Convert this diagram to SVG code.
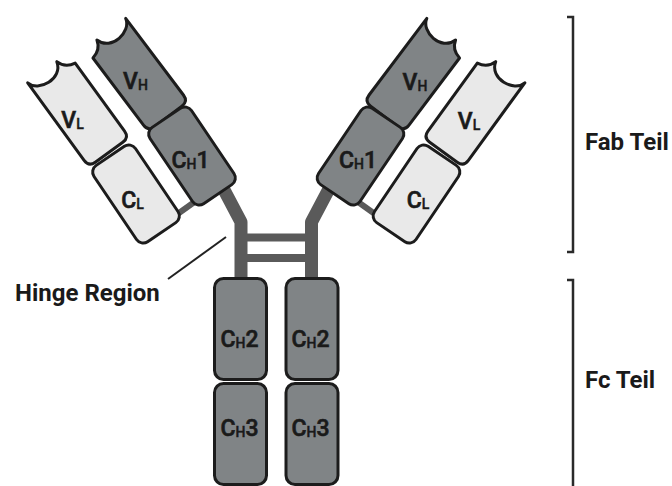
<svg xmlns="http://www.w3.org/2000/svg" width="672" height="486" viewBox="0 0 672 486">
<defs>
<style>
.hv{fill:#808486;stroke:#1c1c1c;stroke-width:3;stroke-linejoin:round}
.lt{fill:#e9e9e9;stroke:#1c1c1c;stroke-width:3;stroke-linejoin:round}
.lbl{font-family:Roboto,"Liberation Sans",sans-serif;font-weight:500;font-size:23px;fill:#1a1a1a;stroke:#1a1a1a;stroke-width:0.6;text-anchor:middle}
.sub{font-size:14px;stroke-width:0.4}
.ann{font-family:Roboto,"Liberation Sans",sans-serif;font-weight:700;font-size:24px;fill:#1a1a1a}
.link{fill:none;stroke:#5a5a5a;stroke-linejoin:round}
.pointer{fill:none;stroke:#222;stroke-width:2}
.bracket{fill:none;stroke:#2a2a2a;stroke-width:2.5}
</style>
<path id="vA" d="M -25,-58 C -22,-44 6,-40 11,-58 Q 14,-48 25,-46 L 25,38 Q 25,46 17,46 L -17,46 Q -25,46 -25,38 Z"/>
<rect id="blk" x="-25" y="-46" width="50" height="92" rx="8"/>
<rect id="fc" x="0" y="0" width="52" height="101" rx="9"/>
</defs>
<rect width="672" height="486" fill="#ffffff"/>
<g id="connectors">
<path class="link" stroke-width="13" d="M 222,186 L 241,222 L 241,282"/>
<path class="link" stroke-width="13" d="M 330.5,186 L 311.5,222 L 311.5,282"/>
<path class="link" stroke-width="8" d="M 241,237.5 L 311.5,237.5 M 241,258 L 311.5,258"/>
<path class="link" stroke-width="6" d="M 172,218 L 200,198"/>
<path class="link" stroke-width="6" d="M 380.5,218 L 352.5,198"/>
<path class="pointer" d="M 168,279 L 226,237"/>
<path class="bracket" d="M 567,17 L 573,17 L 573,252 L 567,252"/>
<path class="bracket" d="M 567,280 L 573,280 L 573,492"/>
</g>
<g id="VL-left"><use href="#vA" class="lt" transform="translate(82,115) rotate(-36)"/><text class="lbl" x="72.5" y="128">V<tspan class="sub" dy="1">L</tspan></text></g>
<g id="CL-left"><use href="#blk" class="lt" transform="translate(136,194) rotate(-34)"/><text class="lbl" x="132.5" y="208">C<tspan class="sub" dy="1">L</tspan></text></g>
<g id="VH-left"><use href="#vA" class="hv" transform="translate(140.6,79.7) rotate(-37) scale(-1,1)"/><text class="lbl" x="135.5" y="89">V<tspan class="sub" dy="1">H</tspan></text></g>
<g id="CH1-left"><use href="#blk" class="hv" transform="translate(192,156) rotate(-34)"/><text class="lbl" x="190.5" y="168">C<tspan class="sub" dy="1">H</tspan><tspan dy="-1">1</tspan></text></g>
<g id="VH-right"><use href="#vA" class="hv" transform="translate(411.9,79.7) rotate(37)"/><text class="lbl" x="415" y="90">V<tspan class="sub" dy="1">H</tspan></text></g>
<g id="CH1-right"><use href="#blk" class="hv" transform="translate(360.5,156) rotate(34)"/><text class="lbl" x="358" y="168">C<tspan class="sub" dy="1">H</tspan><tspan dy="-1">1</tspan></text></g>
<g id="VL-right"><use href="#vA" class="lt" transform="translate(470.5,115) rotate(36) scale(-1,1)"/><text class="lbl" x="469" y="129">V<tspan class="sub" dy="1">L</tspan></text></g>
<g id="CL-right"><use href="#blk" class="lt" transform="translate(416.5,194) rotate(34)"/><text class="lbl" x="418" y="208">C<tspan class="sub" dy="1">L</tspan></text></g>
<g id="CH2-left"><use href="#fc" class="hv" x="214.5" y="278.5"/><text class="lbl" x="239.5" y="347">C<tspan class="sub" dy="1">H</tspan><tspan dy="-1">2</tspan></text></g>
<g id="CH3-left"><use href="#fc" class="hv" x="214.5" y="383.5"/><text class="lbl" x="239.5" y="436">C<tspan class="sub" dy="1">H</tspan><tspan dy="-1">3</tspan></text></g>
<g id="CH2-right"><use href="#fc" class="hv" x="286" y="278.5"/><text class="lbl" x="310.5" y="347">C<tspan class="sub" dy="1">H</tspan><tspan dy="-1">2</tspan></text></g>
<g id="CH3-right"><use href="#fc" class="hv" x="286" y="383.5"/><text class="lbl" x="310.5" y="436">C<tspan class="sub" dy="1">H</tspan><tspan dy="-1">3</tspan></text></g>
<g id="hinge-label"><text class="ann" x="15" y="301">Hinge Region</text></g>
<g id="fab-label"><text class="ann" x="585" y="150">Fab Teil</text></g>
<g id="fc-label"><text class="ann" x="585" y="388">Fc Teil</text></g>
</svg>
